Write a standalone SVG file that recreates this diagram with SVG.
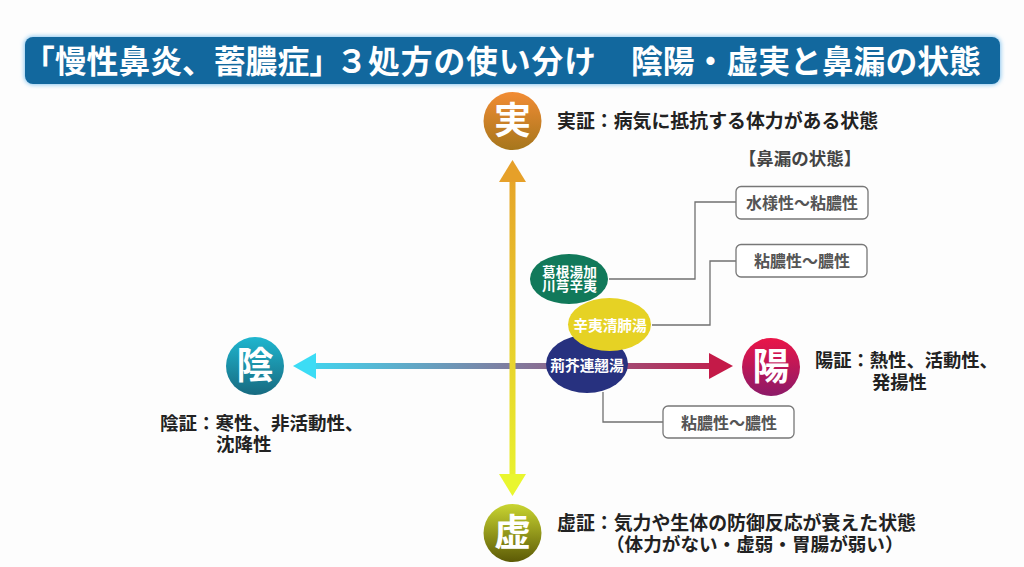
<svg xmlns="http://www.w3.org/2000/svg" width="1024" height="567" viewBox="0 0 1024 567">
<style>
text{font-family:"Noto Sans CJK JP","Noto Sans CJK SC",sans-serif}
.t{font-weight:700;fill:#222}
.g{font-size:37px;font-weight:700;fill:#fff;text-anchor:middle}
.b{font-size:16px;font-weight:700;fill:#555;text-anchor:middle}
.p{font-weight:700;fill:#fff;text-anchor:middle}
.box{fill:#fff;stroke:#777;stroke-width:1.3}
.c{fill:none;stroke:#707070;stroke-width:1.3}
</style>
<defs>
<filter id="glow" x="-5%" y="-30%" width="110%" height="160%"><feGaussianBlur stdDeviation="2"/></filter>
<linearGradient id="gv" gradientUnits="userSpaceOnUse" x1="0" y1="160" x2="0" y2="496"><stop offset="0" stop-color="#e6a029"/><stop offset="1" stop-color="#e9f62f"/></linearGradient>
<linearGradient id="gh" gradientUnits="userSpaceOnUse" x1="293" y1="0" x2="733" y2="0"><stop offset="0" stop-color="#3cdcf5"/><stop offset="1" stop-color="#c41a48"/></linearGradient>
<linearGradient id="g1" x1="0" y1="0" x2="0" y2="1"><stop offset="0" stop-color="#f28c34"/><stop offset="1" stop-color="#a6761c"/></linearGradient>
<linearGradient id="g2" x1="0" y1="0" x2="0" y2="1"><stop offset="0" stop-color="#c9d531"/><stop offset="1" stop-color="#5c5a06"/></linearGradient>
<linearGradient id="g3" x1="0" y1="0" x2="0" y2="1"><stop offset="0" stop-color="#1fb6cf"/><stop offset="1" stop-color="#176a80"/></linearGradient>
<linearGradient id="g4" x1="0" y1="0" x2="0" y2="1"><stop offset="0" stop-color="#ea1548"/><stop offset="1" stop-color="#8c1a68"/></linearGradient>
</defs>
<rect width="1024" height="567" fill="#fdfdfd"/>
<g id="title">
<rect x="24" y="36" width="977" height="49" rx="9" fill="#8cc8f0" filter="url(#glow)"/>
<rect x="25" y="37" width="975" height="47" rx="8" fill="#12689e"/>
<text y="73" font-size="31.800" font-weight="700" fill="#fff"><tspan x="23">「慢性鼻炎、蓄膿症」</tspan><tspan x="336">３</tspan><tspan x="368" letter-spacing="0.9">処方の使い分け</tspan><tspan x="631">陰陽・虚実と鼻漏の状態</tspan></text>
</g>
<g id="connectors">
<rect x="315" y="363" width="396" height="6" fill="url(#gh)"/>
<path d="M293 366L316 353V379Z" fill="#3cdcf5"/>
<path d="M733 366L709 353V379Z" fill="#c41a48"/>
<rect x="509.500" y="180" width="6" height="296" fill="url(#gv)"/>
<path d="M512.500 160L526 182H499Z" fill="#e6a029"/>
<path d="M512.500 496L526 474H499Z" fill="#e9f62f"/>
<path class="c" d="M609 279H695V202H736"/>
<path class="c" d="M652 325H710V261H736"/>
<path class="c" d="M603 392V422H663"/>
</g>
<g id="node-jitsu"><circle cx="512.500" cy="121" r="29" fill="url(#g1)"/><text class="g" x="512.500" y="134">実</text></g>
<g id="node-kyo"><circle cx="512.500" cy="533" r="29" fill="url(#g2)"/><text class="g" x="512.500" y="546">虚</text></g>
<g id="node-in"><circle cx="255" cy="366" r="29" fill="url(#g3)"/><text class="g" x="255" y="379">陰</text></g>
<g id="node-yo"><circle cx="771" cy="367" r="29" fill="url(#g4)"/><text class="g" x="771" y="380">陽</text></g>
<g id="label-jitsu"><text class="t" x="557" y="128" font-size="18.900">実証：病気に抵抗する体力がある状態</text></g>
<g id="label-kyo"><text class="t" x="557" y="530" font-size="18.900">虚証：気力や生体の防御反応が衰えた状態</text><text class="t" x="606" y="551" font-size="18.600">（体力がない・虚弱・胃腸が弱い）</text></g>
<g id="label-in"><text class="t" x="160" y="430" font-size="18.500">陰証：寒性、非活動性、</text><text class="t" x="216" y="451" font-size="18.500">沈降性</text></g>
<g id="label-yo"><text class="t" x="815" y="367" font-size="18.300">陽証：熱性、活動性、</text><text class="t" x="872" y="389" font-size="18.300">発揚性</text></g>
<g id="heading"><text x="800" y="165" text-anchor="middle" font-size="17.500" font-weight="700" fill="#444">【鼻漏の状態】</text></g>
<g id="node-kakkon"><ellipse cx="569" cy="279" rx="39" ry="25" fill="#11795a"/><text class="p" font-size="13.700" x="569.500" y="277">葛根湯加</text><text class="p" font-size="13.700" x="569.500" y="291">川芎辛夷</text></g>
<g id="node-keigai"><ellipse cx="587" cy="364" rx="41" ry="29" fill="#27317f"/><text class="p" font-size="14.700" x="587" y="371">荊芥連翹湯</text></g>
<g id="node-shini"><ellipse cx="609.500" cy="324.500" rx="41.500" ry="26.500" fill="#e6d224"/><text class="p" font-size="14.700" x="610" y="331">辛夷清肺湯</text></g>
<g id="box-1"><rect class="box" x="736" y="186.500" width="132" height="32.500" rx="5"/><text class="b" x="802" y="209">水様性〜粘膿性</text></g>
<g id="box-2"><rect class="box" x="736" y="244.500" width="131" height="32.500" rx="5"/><text class="b" x="802" y="267">粘膿性〜膿性</text></g>
<g id="box-3"><rect class="box" x="663" y="406" width="131" height="32" rx="5"/><text class="b" x="729" y="429">粘膿性〜膿性</text></g>
</svg>
